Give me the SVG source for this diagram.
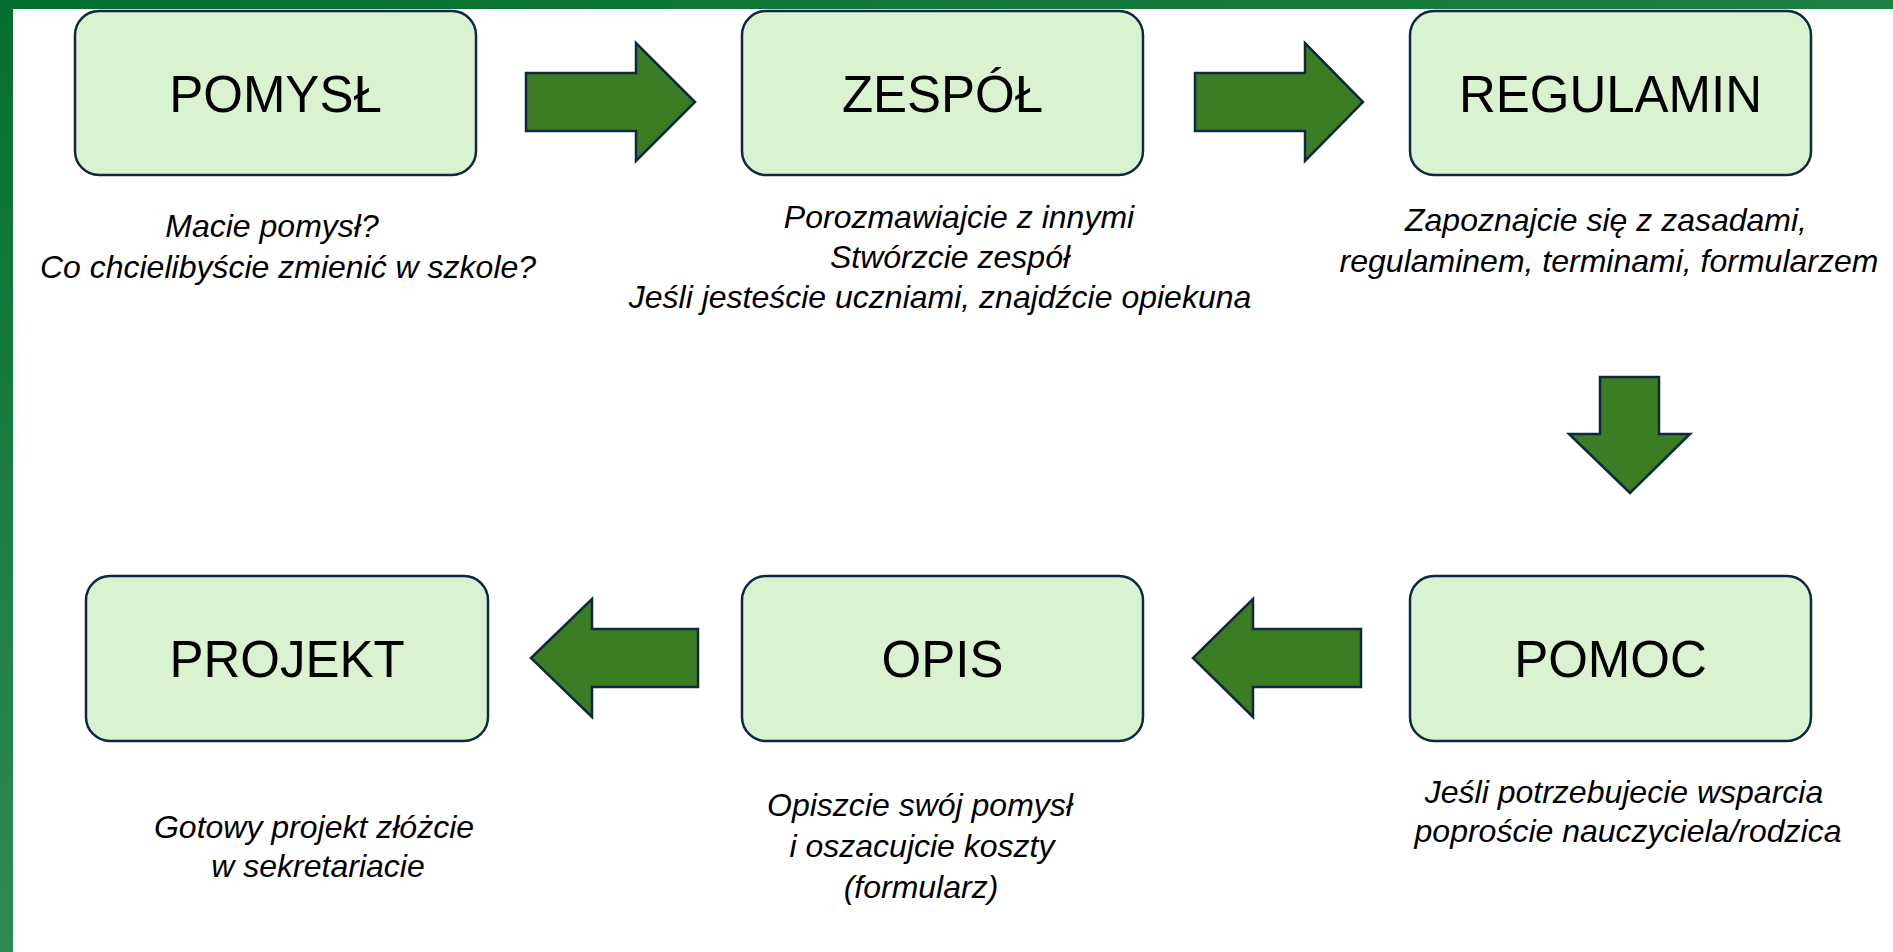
<svg xmlns="http://www.w3.org/2000/svg" width="1893" height="952" viewBox="0 0 1893 952">
  <defs>
    <linearGradient id="gTop" x1="0" y1="0" x2="1" y2="0">
      <stop offset="0" stop-color="#066f2f"/>
      <stop offset="1" stop-color="#1e8043"/>
    </linearGradient>
    <linearGradient id="gLeft" x1="0" y1="0" x2="0" y2="1">
      <stop offset="0" stop-color="#066f2f"/>
      <stop offset="1" stop-color="#2f8b53"/>
    </linearGradient>
  </defs>
  <style>
    .box { fill: #d9f2d0; stroke: #0e2841; stroke-width: 2.5; }
    .arrow { fill: #3b7d23; stroke: #0e2841; stroke-width: 2.5; stroke-linejoin: miter; }
    .title { font-family: "Liberation Sans", Arial, sans-serif; font-size: 51px; fill: #000; text-anchor: middle; }
    .desc { font-family: "Liberation Sans", Arial, sans-serif; font-size: 32px; font-style: italic; fill: #000; text-anchor: middle; }
  </style>
  <rect x="0" y="0" width="1893" height="952" fill="#ffffff"/>
  <rect x="0" y="0" width="1893" height="9" fill="url(#gTop)"/>
  <rect x="0" y="0" width="13" height="952" fill="url(#gLeft)"/>

  <g id="connectors">
    <polygon class="arrow" points="526,73 636,73 636,43 695,102 636,161 636,131 526,131"/>
    <polygon class="arrow" points="1195,73 1305,73 1305,43 1363,102 1305,161 1305,131 1195,131"/>
    <polygon class="arrow" points="1600,377 1659,377 1659,434 1690,434 1630,493 1569,434 1600,434"/>
    <polygon class="arrow" points="1361,629 1253,629 1253,599 1193,658 1253,717 1253,687 1361,687"/>
    <polygon class="arrow" points="698,629 592,629 592,599 531,658 592,717 592,687 698,687"/>
  </g>

  <g id="pomysl">
    <rect class="box" x="75" y="11" width="401" height="164" rx="24"/>
    <text class="title" x="275.5" y="112">POMYSŁ</text>
    <text class="desc" x="272" y="237">Macie pomysł?</text>
    <text class="desc" x="288" y="278">Co chcielibyście zmienić w szkole?</text>
  </g>

  <g id="zespol">
    <rect class="box" x="742" y="11" width="401" height="164" rx="24"/>
    <text class="title" x="942.5" y="112">ZESPÓŁ</text>
    <text class="desc" x="959" y="228">Porozmawiajcie z innymi</text>
    <text class="desc" x="950" y="268">Stwórzcie zespół</text>
    <text class="desc" x="940" y="308">Jeśli jesteście uczniami, znajdźcie opiekuna</text>
  </g>

  <g id="regulamin">
    <rect class="box" x="1410" y="11" width="401" height="164" rx="24"/>
    <text class="title" x="1610.5" y="112">REGULAMIN</text>
    <text class="desc" x="1606" y="231">Zapoznajcie się z zasadami,</text>
    <text class="desc" x="1609" y="272">regulaminem, terminami, formularzem</text>
  </g>

  <g id="pomoc">
    <rect class="box" x="1410" y="576" width="401" height="165" rx="24"/>
    <text class="title" x="1610.5" y="677">POMOC</text>
    <text class="desc" x="1624" y="803">Jeśli potrzebujecie wsparcia</text>
    <text class="desc" x="1628" y="842">poproście nauczyciela/rodzica</text>
  </g>

  <g id="opis">
    <rect class="box" x="742" y="576" width="401" height="165" rx="24"/>
    <text class="title" x="942.5" y="677">OPIS</text>
    <text class="desc" x="920" y="816">Opiszcie swój pomysł</text>
    <text class="desc" x="922" y="857">i oszacujcie koszty</text>
    <text class="desc" x="921" y="898">(formularz)</text>
  </g>

  <g id="projekt">
    <rect class="box" x="86" y="576" width="402" height="165" rx="24"/>
    <text class="title" x="287" y="677">PROJEKT</text>
    <text class="desc" x="314" y="838">Gotowy projekt złóżcie</text>
    <text class="desc" x="318" y="877">w sekretariacie</text>
  </g>
</svg>
